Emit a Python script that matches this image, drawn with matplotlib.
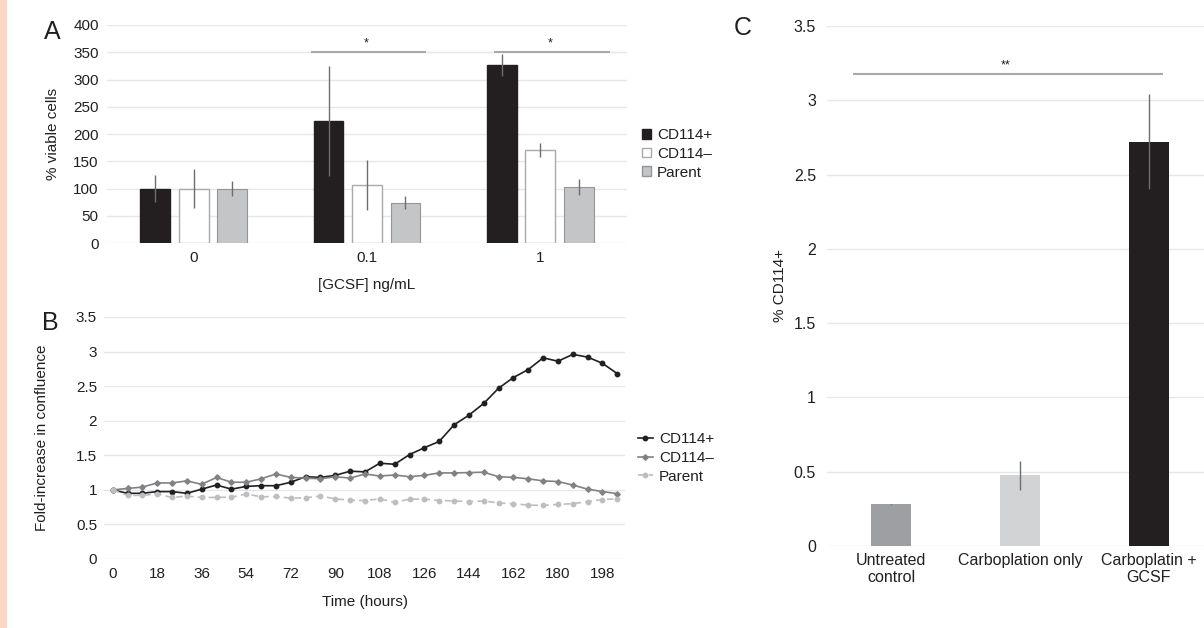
import matplotlib
matplotlib.use("Agg")
import matplotlib.pyplot as plt
from matplotlib.patches import Rectangle, Patch
import numpy as np

plt.rcParams['font.family'] = ['Liberation Sans', 'DejaVu Sans']

# ---- panel A data ----
doses = ['0', '0.1', '1']
groups_a = ['CD114+', 'CD114\u2013', 'Parent']
viable_pos = [100, 224, 327]
viable_pos_err = [24, 101, 20]
viable_neg = [100, 106, 171]
viable_neg_err = [36, 46, 13]
viable_par = [100, 74, 103]
viable_par_err = [14, 12, 15]

# ---- panel B data ----
hours = [0, 6, 12, 18, 24, 30, 36, 42, 48, 54, 60, 66, 72, 78, 84, 90, 96, 102,
         108, 114, 120, 126, 132, 138, 144, 150, 156, 162, 168, 174, 180, 186,
         192, 198, 204]
conf_pos = [1.0, 0.95, 0.95, 0.975, 0.975, 0.95, 1.01, 1.07, 1.01, 1.05, 1.06,
            1.06, 1.11, 1.19, 1.18, 1.21, 1.27, 1.26, 1.385, 1.37, 1.51, 1.61,
            1.70, 1.94, 2.08, 2.25, 2.47, 2.625, 2.74, 2.91, 2.86, 2.96, 2.92,
            2.83, 2.68]
conf_neg = [1.0, 1.02, 1.04, 1.10, 1.10, 1.13, 1.08, 1.18, 1.11, 1.11, 1.16,
            1.23, 1.18, 1.17, 1.16, 1.19, 1.17, 1.23, 1.20, 1.215, 1.19, 1.21,
            1.245, 1.245, 1.25, 1.255, 1.19, 1.18, 1.16, 1.13, 1.12, 1.07,
            1.01, 0.975, 0.945]
conf_par = [1.0, 0.92, 0.92, 0.94, 0.89, 0.91, 0.89, 0.89, 0.895, 0.94, 0.90,
            0.905, 0.88, 0.885, 0.91, 0.87, 0.85, 0.846, 0.87, 0.82, 0.865,
            0.865, 0.846, 0.84, 0.83, 0.84, 0.81, 0.80, 0.78, 0.775, 0.79, 0.80,
            0.83, 0.86, 0.87]

# ---- panel C data ----
treatments = ['Untreated\ncontrol', 'Carboplation only', 'Carboplatin +\nGCSF']
pct_cd114 = [0.28, 0.475, 2.72]
pct_cd114_err = [0.003, 0.10, 0.32]

W, H = 1204, 628
fig = plt.figure(figsize=(W / 100, H / 100), dpi=100)

txt = '#231f20'
grid = '#e6e7e8'
errc = '#6d6e71'
sigc = '#a7a9ac'
fs = 11


def fbox(l, t, r, b):
    return [l / W, 1 - b / H, (r - l) / W, (b - t) / H]


def style(ax):
    for s in ax.spines.values():
        s.set_visible(False)
    ax.yaxis.grid(True, color=grid, lw=1)
    ax.set_axisbelow(True)
    ax.tick_params(length=0, colors=txt, labelsize=fs)


# left strip
fig.add_artist(Rectangle((0, 0), 7 / W, 1, transform=fig.transFigure,
                         color='#fcd8c4', lw=0))

# ---- A ----
axA = fig.add_axes(fbox(107, 25, 627, 243))
style(axA)
x = np.arange(len(doses))
bw = 0.172
ekw = dict(ecolor=errc, elinewidth=1, capsize=0)
axA.bar(x - 0.222, viable_pos, bw, yerr=viable_pos_err, color='#231f20',
        edgecolor='#231f20', error_kw=ekw)
axA.bar(x, viable_neg, bw, yerr=viable_neg_err, color='white',
        edgecolor='#a7a9ac', lw=1, error_kw=ekw)
axA.bar(x + 0.222, viable_par, bw, yerr=viable_par_err, color='#c4c5c7',
        edgecolor='#939598', lw=0.8, error_kw=ekw)
axA.set_xlim(-0.5, 2.5)
axA.set_ylim(0, 400)
axA.set_yticks(range(0, 401, 50))
axA.set_xticks(x)
axA.set_xticklabels(doses)
axA.tick_params(axis='x', pad=6)
axA.tick_params(axis='y', pad=6)
axA.set_xlabel('[GCSF] ng/mL', fontsize=fs, color=txt, labelpad=9)
axA.set_ylabel('% viable cells', fontsize=fs, color=txt)
axA.yaxis.set_label_coords(-0.09, 0.5)
for x0, x1 in [(0.676, 1.34), (1.73, 2.40)]:
    axA.plot([x0, x1], [350, 350], color=sigc, lw=1.5, solid_capstyle='butt')
    axA.text((x0 + x1) / 2 - 0.01, 366, '*', ha='center', va='center',
             fontsize=9, color=txt)
legA = [Patch(facecolor='#231f20', edgecolor='#231f20'),
        Patch(facecolor='white', edgecolor='#a7a9ac'),
        Patch(facecolor='#c4c5c7', edgecolor='#939598')]
axA.legend(legA, groups_a, loc='center left', frameon=False,
           bbox_to_anchor=(634 / W, 1 - 154 / H), bbox_transform=fig.transFigure,
           handlelength=0.6, handleheight=0.6, handletextpad=0.4,
           labelspacing=0.3, borderpad=0, fontsize=fs, labelcolor=txt)
fig.text(52 / W, 1 - 32 / H, 'A', fontsize=18, ha='center', va='center', color=txt)

# ---- B ----
axB = fig.add_axes(fbox(104, 317, 625, 559))
style(axB)
axB.plot(hours, conf_pos, color='#231f20', lw=1.2, marker='o', ms=3.2,
         label='CD114+')
axB.plot(hours, conf_neg, color='#808285', lw=1.2, marker='D', ms=2.8,
         label='CD114\u2013')
axB.plot(hours, conf_par, color='#bcbec0', lw=1.2, marker='o', ms=3.2,
         dashes=(4, 2.5), label='Parent')
axB.set_xlim(-3.5, 207.1)
axB.set_ylim(0, 3.5)
axB.set_xticks(range(0, 199, 18))
axB.set_yticks(np.arange(0, 3.51, 0.5))
axB.set_yticklabels(['0', '0.5', '1', '1.5', '2', '2.5', '3', '3.5'])
axB.tick_params(axis='x', pad=6)
axB.tick_params(axis='y', pad=5)
axB.set_xlabel('Time (hours)', fontsize=fs, color=txt, labelpad=10)
axB.set_ylabel('Fold-increase in confluence', fontsize=fs, color=txt)
axB.yaxis.set_label_coords(-0.105, 0.5)
axB.legend(loc='center left', frameon=False,
           bbox_to_anchor=(630 / W, 1 - 458 / H), bbox_transform=fig.transFigure,
           handlelength=1.0, handletextpad=0.4, labelspacing=0.3, borderpad=0,
           fontsize=fs, labelcolor=txt)
fig.text(50 / W, 1 - 323 / H, 'B', fontsize=18, ha='center', va='center', color=txt)

# ---- C ----
axC = fig.add_axes(fbox(827, 26, 1204, 546))
style(axC)
xc = np.arange(len(treatments))
axC.bar(xc, pct_cd114, 0.31, yerr=pct_cd114_err,
        color=['#9d9fa2', '#d1d3d4', '#231f20'], error_kw=ekw)
axC.set_xlim(-0.5, 2.43)
axC.set_ylim(0, 3.5)
axC.set_yticks(np.arange(0, 3.51, 0.5))
axC.set_yticklabels(['0', '0.5', '1', '1.5', '2', '2.5', '3', '3.5'])
axC.set_xticks(xc)
axC.set_xticklabels(treatments, linespacing=1.15)
axC.tick_params(labelsize=11.5)
axC.tick_params(axis='x', pad=5)
axC.tick_params(axis='y', pad=8)
axC.set_ylabel('% CD114+', fontsize=fs, color=txt)
axC.yaxis.set_label_coords(-0.107, 0.5)
axC.plot([-0.30, 2.11], [3.18, 3.18], color=sigc, lw=1.5, solid_capstyle='butt')
axC.text(0.89, 3.235, '**', ha='center', va='center', fontsize=9, color=txt)
fig.text(743 / W, 1 - 28 / H, 'C', fontsize=18, ha='center', va='center', color=txt)

fig.savefig('out.png', dpi=100)
